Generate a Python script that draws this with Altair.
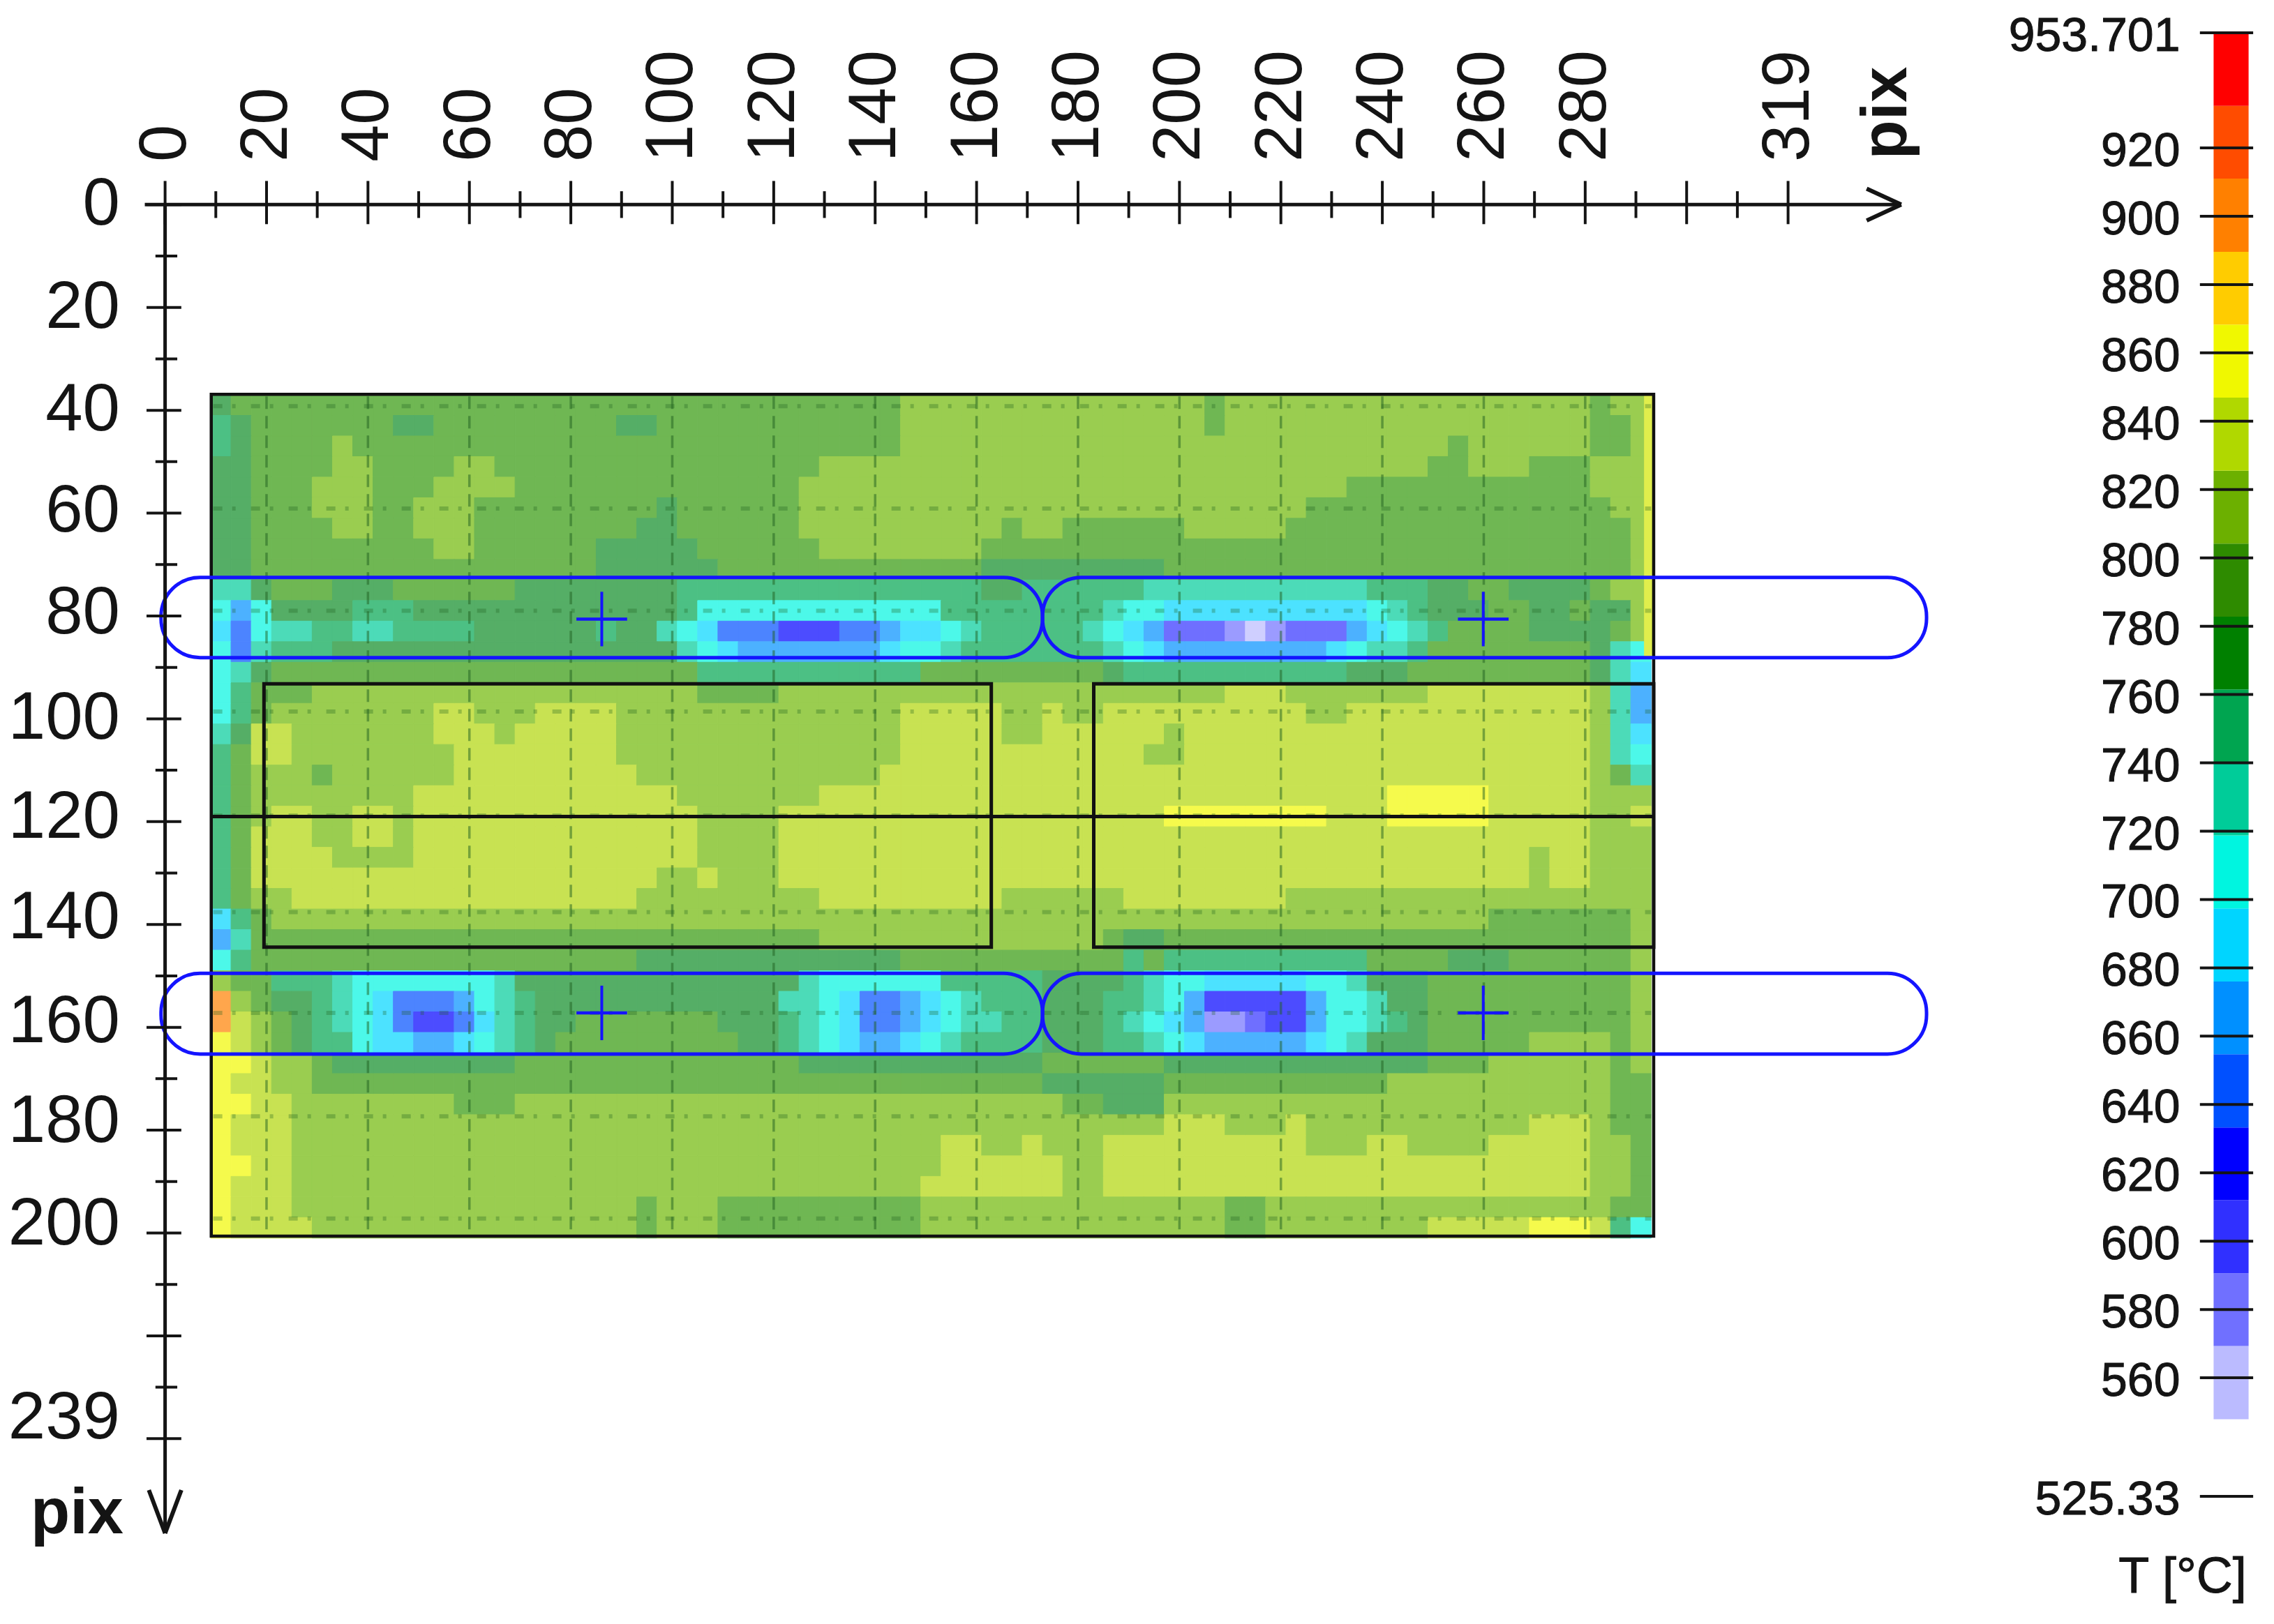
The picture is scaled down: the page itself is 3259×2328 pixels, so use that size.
import altair as alt
import pandas as pd

# ---------- values ----------
BAND_CODES = list("zxwvubsctedmklygonr")
BAND_EDGES = [547.9, 569.3, 590.6, 612.0, 633.3, 654.7, 676.0, 697.4, 718.8, 740.1,
              761.5, 782.8, 804.2, 825.5, 846.9, 868.3, 889.6, 911.0, 932.3, 953.701]
LEGEND_COLORS = ["#bbbbff", "#7070ff", "#3030ff", "#0000ff", "#0050ff", "#0090ff", "#00d5ff",
                 "#00f5e0", "#00cc99", "#00a550", "#008000", "#2e8b00", "#6cb000", "#b0d800",
                 "#f0f800", "#ffcc00", "#ff8000", "#ff4c00", "#ff0000"]
MAP_COLORS = ["#cfcfff", "#9b9bff", "#6f6fff", "#4c4cff", "#4c84ff", "#4cb1ff", "#4ce2ff",
              "#4cf8e9", "#4cdbb8", "#4cc084", "#55ae66", "#6fb753", "#9acd50", "#c8e252",
              "#f5fa4c", "#ffdb4c", "#ffa64c", "#ff824c", "#ff4c4c"]

# each row of the thermogram: band letter + first column (4 pix per column, 4 pix per row)
GRID_X0, GRID_Y0, CELL = 9, 37, 4
GRID_COLS = 71
GRID_ROWS = [
    "d0 m1 k34 m49 k50 m68 k69",
    "e0 d1 m2 d9 m11 d20 m22 k34 m49 k50 m68 k70",
    "e0 d1 m2 k6 m7 k34 m61 k62 m68 k70",
    "d0 m2 k6 m8 k12 m14 k30 m60 k62 m65 k68",
    "d0 m2 k5 m8 k11 m15 k29 m56 k68",
    "d0 m2 k5 m8 k10 m13 d22 m23 k29 m54 k69",
    "d0 m2 k6 m8 k10 m13 d21 m23 k29 m39 k40 m42 k48 m53 k70",
    "d0 m2 k11 m13 d19 m24 k30 m38 k70",
    "d0 m2 d19 m25 d38 m47 k70",
    "t0 d2 m3 d6 m9 d15 e23 d38 e40 t46 e57 d60 m62 d64 m68 k69",
    "c0 b1 c2 d3 e7 d10 e23 c24 e36 t44 c45 s47 c57 t58 e59 d60 m63 d65 m67 d68 k70",
    "s0 u1 c2 t3 e5 t7 e9 d13 e19 d20 t22 c23 s24 u25 v28 u31 b33 s34 c36 t37 e38 t43 c44 s45 b46 w47 x50 z51 x52 w53 b56 s57 c58 t59 e60 m61 d65 m69 k70",
    "c0 u1 t2 e3 d6 t23 c24 s25 b26 s33 c34 t36 e37 t44 c45 s46 b47 s55 c56 t57 e59 m60 d68 t69 c70",
    "c0 t1 d2 m3 e24 m35 d44 e45 d56 m59 d68 t69 s70",
    "c0 e1 m2 k5 m24 k28 l50 k53 l60 k68 t69 b70",
    "c0 e1 m2 k3 l11 k13 l16 k20 l34 k39 l41 k42 l44 k54 l56 k68 t69 b70",
    "t0 d1 l2 k4 l11 k14 l15 k20 l34 k39 l41 k47 l48 k68 t69 s70",
    "e0 m1 l2 k4 l12 k20 l34 k46 l48 k68 t69 c70",
    "e0 m1 k2 m5 k6 l12 k21 l33 k68 m69 t70",
    "e0 m1 k2 l10 k23 l30 y58 l63 k68",
    "e0 m1 k2 l3 k5 l7 k9 l10 k24 l28 y47 l55 y58 l63 k68 l70",
    "e0 m1 l2 k5 l7 k9 l10 k24 l28 k68",
    "e0 m1 l2 k6 l10 k24 l28 k65 l66 k68",
    "e0 m1 l2 k22 l24 k25 l28 k65 l66 k68",
    "e0 m1 k2 l4 k21 l30 k39 l45 k53",
    "s0 e1 m2 k3 m63 k70",
    "b0 t1 m2 k30 m44 d45 m47 k70",
    "c0 e1 m2 d21 m34 e45 m46 e47 m57 d61 m64 k70",
    "k0 m1 e3 t6 c7 t14 d15 t29 c30 e36 d41 e45 t46 c47 s49 c54 t56 d57 m60 k70",
    "o0 k1 m2 d3 e5 t6 c7 s8 u9 b12 c13 t14 e15 d16 t28 c30 s31 u32 b34 s35 c36 t37 e38 d41 e44 t46 c47 b48 v49 b54 c55 t57 d58 m60 k70",
    "o0 l1 k2 m3 d4 e5 t6 c7 s8 u9 v10 u12 s13 t14 e15 d16 m18 d25 e28 t29 c30 s31 u32 b34 s35 c36 t37 e39 d41 e44 t45 c46 s47 b48 x49 w51 v52 b54 c55 t57 e58 d59 m60 k70",
    "y0 l1 k2 m3 d4 e5 c7 s8 b10 s12 c13 t14 e15 d16 m17 d26 e28 t29 c30 s31 b32 s34 c35 t36 e37 d41 e44 t46 c47 s48 b49 s54 c55 t56 d57 m60 k65 m69 k70",
    "y0 l2 k3 m5 d6 m15 d29 m41 d47 m60 k63 m69 k70",
    "y0 l1 k3 m5 d41 m47 k58 m69",
    "y0 l2 k4 m12 k15 m42 d44 k47 m69",
    "y0 l1 k4 l47 k50 l53 k54 l65 k68 m69",
    "y0 l1 k4 l36 k38 l40 k41 l44 k54 l57 k59 l63 k68 m70",
    "y0 l2 k4 l36 k42 l44 k68 m70",
    "y0 l1 k4 l35 k42 l44 k68 m70",
    "y0 l1 k4 m21 k22 m25 k35 m50 k52 m69",
    "y0 l1 k5 m21 k22 m25 k35 m50 k52 l60 y65 l68 e69 c70",
]
# thin bright strip along the right edge of the image
EDGE_STRIP = dict(x=[291.6], x2=[293.5], y=[37], y2=[88], T=[850])

X_MAJOR = [0, 20, 40, 60, 80, 100, 120, 140, 160, 180, 200, 220, 240, 260, 280, 300, 320]
X_MINOR = [10, 30, 50, 70, 90, 110, 130, 150, 170, 190, 210, 230, 250, 270, 290, 310]
X_LABELS = ["0", "20", "40", "60", "80", "100", "120", "140", "160", "180", "200", "220", "240", "260", "280", "319"]
X_LABEL_POS = [0, 20, 40, 60, 80, 100, 120, 140, 160, 180, 200, 220, 240, 260, 280, 320]
Y_MAJOR = [0, 20, 40, 60, 80, 100, 120, 140, 160, 180, 200, 220, 240]
Y_MINOR = [10, 30, 50, 70, 90, 110, 130, 150, 170, 190, 210, 230]
Y_LABELS = ["0", "20", "40", "60", "80", "100", "120", "140", "160", "180", "200", "239"]
Y_LABEL_POS = [0, 20, 40, 59.6, 79.4, 100, 119.2, 138.8, 158.9, 178.4, 198.3, 236]
GRID_V = [20, 40, 60, 80, 100, 120, 140, 160, 180, 200, 220, 240, 260, 280]
GRID_H = [39.2, 59.1, 79, 98.6, 118.8, 137.6, 157.2, 177.3, 197.2]
LEGEND_TICKS = [953.701, 920, 900, 880, 860, 840, 820, 800, 780, 760, 740, 720, 700, 680,
                660, 640, 620, 600, 580, 560, 525.33]
LEGEND_TEXT = ["953.701", "920", "900", "880", "860", "840", "820", "800", "780", "760", "740",
               "720", "700", "680", "660", "640", "620", "600", "580", "560", "525.33"]

FRAME = dict(x=[9.1], x2=[293.5], y=[36.9], y2=[200.6])
ZONES = dict(x=[19.5, 183.1], x2=[162.9, 293.5], y=[93.2, 93.2], y2=[144.4, 144.4])
MID_LINE = dict(x=[9.1], x2=[293.5], y=[119])
PILLS = dict(x=[-0.8, 173, -0.8, 173], x2=[173, 347.3, 173, 347.3],
             y=[72.5, 72.5, 149.5, 149.5], y2=[88.1, 88.1, 165.2, 165.2])
CROSS_X = [86.1, 259.9, 86.1, 259.9]
CROSS_Y = [80.6, 80.6, 157.2, 157.2]

# ---------- scales ----------
W, H = 2326, 1769
XS = alt.Scale(domain=[0, 320], nice=False, zero=False)
YS = alt.Scale(domain=[0, 240], reverse=True, nice=False, zero=False)
TS = alt.Scale(domain=[542.2, 903.4], nice=False, zero=False)


def X(f="x"):
    return alt.X(f"{f}:Q", scale=XS, axis=None, title=None)


def Y(f="y"):
    return alt.Y(f"{f}:Q", scale=YS, axis=None, title=None)


def YT(f="T"):
    return alt.Y(f"{f}:Q", scale=TS, axis=None, title=None)


INK = "#141414"
BLUE = "#1414ff"
mids = {c: (BAND_EDGES[i] + BAND_EDGES[i + 1]) / 2 for i, c in enumerate(BAND_CODES)}

cells = []
for j, row in enumerate(GRID_ROWS):
    toks = row.split()
    for n, tok in enumerate(toks):
        start = int(tok[1:])
        end = int(toks[n + 1][1:]) if n + 1 < len(toks) else GRID_COLS
        for i in range(start, end):
            cells.append(dict(x=GRID_X0 + CELL * i, x2=GRID_X0 + CELL * (i + 1),
                              y=GRID_Y0 + CELL * j, y2=GRID_Y0 + CELL * (j + 1),
                              T=round(mids[tok[0]], 1)))
heat_df = pd.DataFrame(cells)
thresholds = BAND_EDGES[1:-1]
heat_scale = alt.Scale(type="threshold", domain=thresholds, range=MAP_COLORS)
heat = alt.Chart(heat_df).mark_rect(strokeWidth=1).encode(
    x=X(), x2="x2:Q", y=Y(), y2="y2:Q",
    color=alt.Color("T:Q", scale=heat_scale, legend=None),
    stroke=alt.Stroke("T:Q", scale=heat_scale, legend=None),
)
edge = alt.Chart(pd.DataFrame(EDGE_STRIP)).mark_rect(color="#e0ee4c").encode(
    x=X(), x2="x2:Q", y=Y(), y2="y2:Q")

grid_v = alt.Chart(pd.DataFrame(dict(x=GRID_V, y=[37.3] * len(GRID_V), y2=[200.3] * len(GRID_V)))).mark_rule(
    color="#1f5f1f", opacity=0.5, strokeWidth=3.5, strokeDash=[18, 10]).encode(x=X(), y=Y(), y2="y2:Q")
grid_h = alt.Chart(pd.DataFrame(dict(y=GRID_H, x=[9.5] * len(GRID_H), x2=[293] * len(GRID_H)))).mark_rule(
    color="#1f5f1f", opacity=0.3, strokeWidth=6, strokeDash=[13, 14, 5, 22]).encode(x=X(), x2="x2:Q", y=Y())

frame = alt.Chart(pd.DataFrame(FRAME)).mark_rect(fillOpacity=0, stroke="#111111", strokeWidth=4.5).encode(
    x=X(), x2="x2:Q", y=Y(), y2="y2:Q")
zones = alt.Chart(pd.DataFrame(ZONES)).mark_rect(fillOpacity=0, stroke="#111111", strokeWidth=5).encode(
    x=X(), x2="x2:Q", y=Y(), y2="y2:Q")
mid = alt.Chart(pd.DataFrame(MID_LINE)).mark_rule(color="#111111", strokeWidth=5).encode(x=X(), x2="x2:Q", y=Y())
pills = alt.Chart(pd.DataFrame(PILLS)).mark_rect(
    fillOpacity=0, stroke=BLUE, strokeWidth=5, cornerRadius=56).encode(x=X(), x2="x2:Q", y=Y(), y2="y2:Q")
cross_h = alt.Chart(pd.DataFrame(dict(x=[v - 5 for v in CROSS_X], x2=[v + 5 for v in CROSS_X], y=CROSS_Y))).mark_rule(
    color=BLUE, strokeWidth=4.5).encode(x=X(), x2="x2:Q", y=Y())
cross_v = alt.Chart(pd.DataFrame(dict(x=CROSS_X, y=[v - 5.3 for v in CROSS_Y], y2=[v + 5.3 for v in CROSS_Y]))).mark_rule(
    color=BLUE, strokeWidth=4).encode(x=X(), y=Y(), y2="y2:Q")

# axes drawn as real lines through the pix scales
axis_lines = alt.Chart(pd.DataFrame(dict(x=[-4, 0], x2=[342.3, 0], y=[0, 0], y2=[0, 258.4]))).mark_rule(
    color=INK, strokeWidth=5).encode(x=X(), x2="x2:Q", y=Y(), y2="y2:Q")
arrows = alt.Chart(pd.DataFrame(dict(
    x=[342.3, 342.3, 0, 0], x2=[335.5, 335.5, -3.2, 3.2],
    y=[0, 0, 258.4, 258.4], y2=[-3.1, 3.1, 250, 250]))).mark_rule(
    color=INK, strokeWidth=6).encode(x=X(), x2="x2:Q", y=Y(), y2="y2:Q")
xt_major = alt.Chart(pd.DataFrame(dict(x=X_MAJOR, y=[-4.6] * len(X_MAJOR), y2=[3.8] * len(X_MAJOR)))).mark_rule(
    color=INK, strokeWidth=4).encode(x=X(), y=Y(), y2="y2:Q")
xt_minor = alt.Chart(pd.DataFrame(dict(x=X_MINOR, y=[-2.6] * len(X_MINOR), y2=[2.6] * len(X_MINOR)))).mark_rule(
    color=INK, strokeWidth=4).encode(x=X(), y=Y(), y2="y2:Q")
yt_major = alt.Chart(pd.DataFrame(dict(y=Y_MAJOR, x=[-3.66] * len(Y_MAJOR), x2=[3.2] * len(Y_MAJOR)))).mark_rule(
    color=INK, strokeWidth=4).encode(x=X(), x2="x2:Q", y=Y())
yt_minor = alt.Chart(pd.DataFrame(dict(y=Y_MINOR, x=[-1.9] * len(Y_MINOR), x2=[2.4] * len(Y_MINOR)))).mark_rule(
    color=INK, strokeWidth=4).encode(x=X(), x2="x2:Q", y=Y())

FONT = "Liberation Sans"
x_labels = alt.Chart(pd.DataFrame(dict(x=X_LABEL_POS, y=[-8.3] * len(X_LABELS), t=X_LABELS))).mark_text(
    font=FONT, fontSize=96, angle=270, align="left", baseline="middle", color=INK).encode(
    x=X(), y=Y(), text="t:N")
y_labels = alt.Chart(pd.DataFrame(dict(y=Y_LABEL_POS, x=[-8.9] * len(Y_LABELS), t=Y_LABELS))).mark_text(
    font=FONT, fontSize=96, align="right", baseline="middle", color=INK).encode(
    x=X(), y=Y(), text="t:N")
pix_x = alt.Chart(pd.DataFrame(dict(x=[339.4], y=[-8.8], t=["pix"]))).mark_text(
    font=FONT, fontSize=92, fontWeight="bold", angle=270, align="left", baseline="middle", color=INK).encode(
    x=X(), y=Y(), text="t:N")
pix_y = alt.Chart(pd.DataFrame(dict(x=[-8.2], y=[254.6], t=["pix"]))).mark_text(
    font=FONT, fontSize=92, fontWeight="bold", align="right", baseline="middle", color=INK).encode(
    x=X(), y=Y(), text="t:N")

# colour bar on its own temperature scale
bar_df = pd.DataFrame(dict(T0=BAND_EDGES[:-1], T1=BAND_EDGES[1:], c=LEGEND_COLORS,
                           x=[403.9] * 19, x2=[410.8] * 19))
bar = alt.Chart(bar_df).mark_rect().encode(
    x=X(), x2="x2:Q", y=YT("T1"), y2="T0:Q", color=alt.Color("c:N", scale=None, legend=None))
n = len(LEGEND_TICKS)
bar_ticks = alt.Chart(pd.DataFrame(dict(T=LEGEND_TICKS, x=[401.2] * n, x2=[411.7] * n))).mark_rule(
    color=INK, strokeWidth=4).encode(x=X(), x2="x2:Q", y=YT())
bar_text = alt.Chart(pd.DataFrame(dict(T=LEGEND_TICKS, x=[397.3] * n, t=LEGEND_TEXT))).mark_text(
    font=FONT, fontSize=68, align="right", baseline="middle", color=INK, stroke=INK, strokeWidth=1, dy=6).encode(
    x=X(), y=YT(), text="t:N")
bar_title = alt.Chart(pd.DataFrame(dict(x=[410.4], y=[266.9], t=["T [°C]"]))).mark_text(
    font=FONT, fontSize=72, align="right", baseline="middle", color=INK, stroke=INK, strokeWidth=1).encode(
    x=X(), y=Y(), text="t:N")

chart = alt.layer(
    heat, edge, grid_v, grid_h, frame, zones, mid, pills, cross_h, cross_v,
    axis_lines, arrows, xt_major, xt_minor, yt_major, yt_minor,
    x_labels, y_labels, pix_x, pix_y, bar, bar_ticks, bar_text, bar_title,
).resolve_scale(y="independent", color="independent", stroke="independent").properties(
    width=W, height=H,
    padding={"left": 228.6, "top": 285.3, "right": 688, "bottom": 258},
    autosize=alt.AutoSizeParams(type="none"),
).configure_view(stroke=None)

chart.save("out.html", embed_options={"renderer": "svg", "actions": False})
